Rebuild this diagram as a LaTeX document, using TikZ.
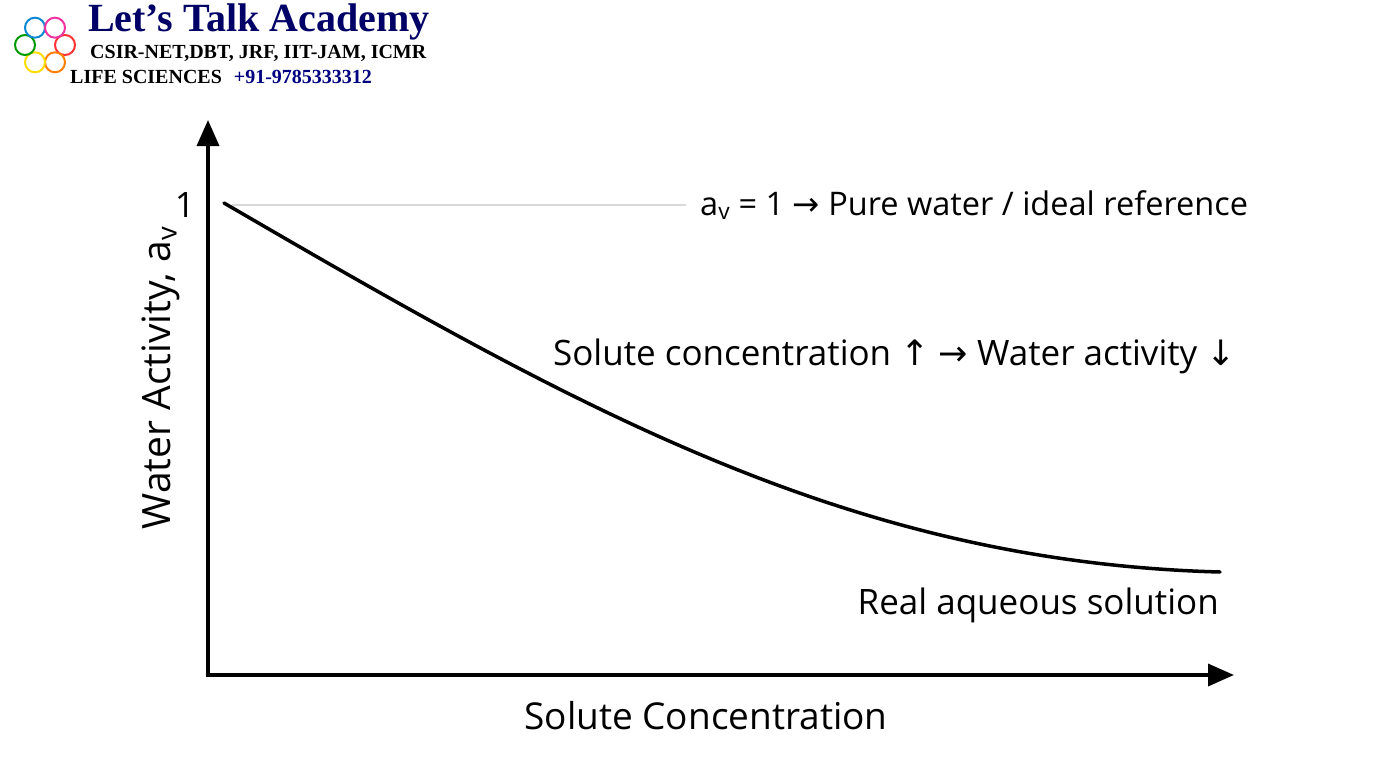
\documentclass[tikz,border=0pt]{standalone}
\usepackage{fontspec}
\setmainfont{Open Sans}
\newfontfamily\logofont{Liberation Serif}
\newfontfamily\arr{DejaVu Sans}
\usetikzlibrary{arrows.meta}
\begin{document}
\begin{tikzpicture}[x=1pt,y=-1pt,
  lbl/.style={font=\fontsize{35}{38}\selectfont, inner sep=0pt},
  axis/.style={line width=3.5pt,-{Triangle[length=26pt,width=22pt]}},
  logo/.style={font=\logofont\bfseries, inner sep=0pt, anchor=west}]
\useasboundingbox[fill=white] (0,0) rectangle (1376,768);
% logo
\foreach \a/\c in {0/red!80,60/orange,120/yellow!80!orange,180/green!60!black,240/cyan!70!blue,300/magenta!80}
  \draw[\c, line width=2pt] (45,45) ++(\a:20) circle (10);
\node[logo, text=blue!40!black, font=\logofont\bfseries\fontsize{40}{42}\selectfont] (t1) at (88,22) {Let’s Talk Academy};
\node[logo, font=\logofont\bfseries\fontsize{20}{22}\selectfont] (t2) at (90,53) {CSIR-NET,DBT, JRF, IIT-JAM, ICMR};
\node[logo, font=\logofont\bfseries\fontsize{20}{22}\selectfont] (t3) at (70,77) {LIFE SCIENCES\hspace{12pt}\textcolor{blue!50!black}{+91-9785333312}};
% axes
\coordinate (o) at (208,675);
\coordinate (yt) at (208,120);
\coordinate (xr) at (1234,675);
\draw[axis] (208,677) -- (yt);
\draw[axis] (206,675) -- (xr);
% reference line
\coordinate (g1) at (232,205); \coordinate (g2) at (686,205);
\draw[black!15, line width=2.5pt] (g1) -- (g2);
\node[lbl, anchor=east] (one) at (195,205) {1};
\node[lbl, anchor=west, font=\fontsize{32.5}{36}\selectfont] (ref) at (700,205) {a\textsubscript{v} = 1 {\arr →} Pure water / ideal reference};
% curve
\coordinate (c0) at (224,203); \coordinate (c1) at (1220,572);
\draw[line width=3.5pt, line cap=round] (c0) .. controls (580,410) and (850,562) .. (c1);
\node[lbl, anchor=east] (sc) at (1236,356) {Solute concentration {\arr ↑} {\arr →} Water activity {\arr ↓}};
\node[lbl, anchor=east] (real) at (1219,605) {Real aqueous solution};
\node[lbl, font=\fontsize{37}{40}\selectfont] (xl) at (706,716) {Solute Concentration};
\node[lbl, rotate=90, font=\fontsize{39}{42}\selectfont] (yl) at (161,378) {Water Activity, a\textsubscript{v}};
\end{tikzpicture}
\end{document}
